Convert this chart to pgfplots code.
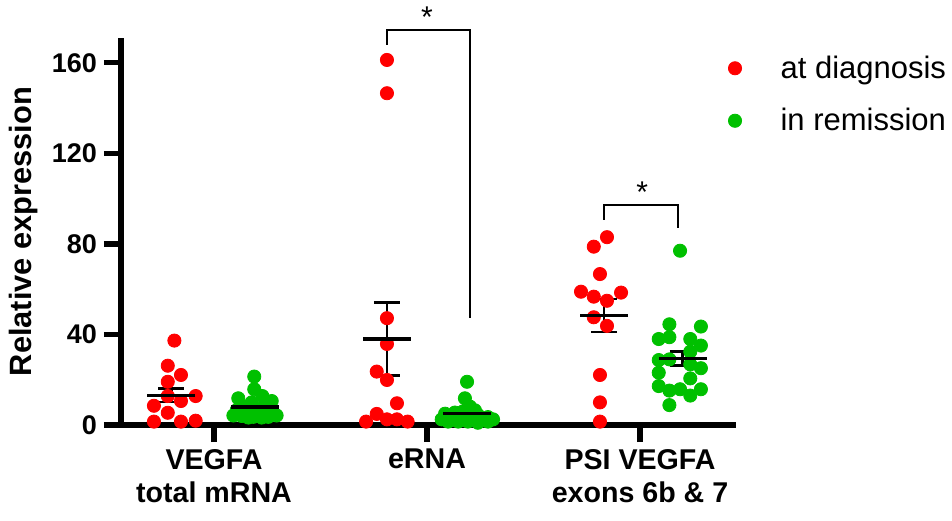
\documentclass[border=0pt]{standalone}
\usepackage{fontspec}
\setmainfont{Liberation Sans}
\usepackage{pgfplots}
\pgfplotsset{compat=1.18}
\definecolor{dxred}{RGB}{255,0,0}
\definecolor{rmgreen}{RGB}{0,192,0}

\begin{document}
\begin{tikzpicture}
\useasboundingbox (-60.5pt,-47.5pt) rectangle (415.5pt,212.5pt);
\begin{axis}[
  at={(0,0)}, anchor=south west,
  width=307.5pt, height=193.5pt, scale only axis,
  xmin=0.5634, xmax=3.4507, ymin=0, ymax=171,
  axis lines=left,
  axis line style={-, line width=2.6pt},
  tick align=outside, major tick length=8.5pt,
  tick style={line width=2.6pt, black},
  xtick={1,2,3},
  xticklabels={{VEGFA\\total mRNA},{eRNA},{PSI VEGFA\\exons 6b \& 7}},
  xticklabel style={align=center, font=\bfseries\fontsize{14.3}{16.5}\selectfont},
  ytick={0,40,80,120,160},
  yticklabel style={font=\bfseries\fontsize{13.5}{16}\selectfont},
  /pgf/number format/assume math mode=true,
  ylabel={Relative expression},
  ylabel style={font=\bfseries\fontsize{15.4}{18}\selectfont,
    at={(axis description cs:-0.158,0.5)}, anchor=center},
  clip=false,
  legend image code/.code={\draw[#1] plot coordinates {(0pt,0pt)};},
  legend style={at={(axis description cs:0.987,0.966)}, anchor=north west,
    draw=none, fill=none, inner sep=0pt, row sep=9.5pt, column sep=17.5pt,
    nodes={inner sep=2pt},
    font=\fontsize{15.5}{18}\selectfont},
  legend cell align=left,
]

% at diagnosis
\addplot[only marks, mark=*, mark size=3.3pt, color=dxred] coordinates {
(0.814,37.3) (0.783,26.2) (0.845,22.1) (0.783,19.1) (0.783,12.8) (0.914,12.8)
(0.845,10.6) (0.718,8.5) (0.783,5.4) (0.718,1.5) (0.845,1.5) (0.914,1.9)
(1.812,161.3) (1.812,146.6) (1.812,47.2) (1.812,35.8) (1.764,23.6) (1.812,19.9)
(1.859,9.6) (1.764,4.9) (1.714,1.5) (1.812,2.5) (1.859,2.5) (1.909,1.5)
(2.845,83.0) (2.783,78.8) (2.812,66.7) (2.723,58.9) (2.783,56.7) (2.845,54.9)
(2.911,58.5) (2.783,47.6) (2.845,43.8) (2.812,22.1) (2.812,10.0) (2.812,1.5)
};
\addlegendentry{at diagnosis}

% in remission
\addplot[only marks, mark=*, mark size=3.3pt, color=rmgreen] coordinates {
(1.189,21.4) (1.189,15.8) (1.227,12.8) (1.114,11.8) (1.271,10.6) (1.177,10.0)
(1.239,9.0) (1.146,7.9) (1.208,6.9) (1.107,6.6) (1.271,6.2) (1.161,5.4)
(1.224,4.8) (1.091,4.2) (1.294,4.2) (1.130,4.0) (1.185,3.6) (1.255,3.6)
(1.161,3.3) (1.224,3.3)
(2.188,19.1) (2.178,11.8) (2.202,8.1) (2.085,5.0) (2.131,5.5) (2.239,4.5)
(2.286,3.5) (2.108,3.0) (2.164,3.5) (2.211,2.5) (2.258,2.0) (2.310,2.5)
(2.069,2.5) (2.146,1.5) (2.192,1.5) (2.239,1.0) (2.099,1.5) (2.286,1.5)
(2.169,6.0) (2.225,6.5)
(3.188,77.0) (3.138,44.5) (3.286,43.5) (3.088,38.0) (3.138,38.8) (3.236,38.0)
(3.286,35.1) (3.236,32.4) (3.088,28.7) (3.138,29.0) (3.236,26.8) (3.286,25.1)
(3.088,23.1) (3.236,20.6) (3.088,17.2) (3.138,15.2) (3.188,15.8) (3.286,15.8)
(3.236,13.0) (3.138,8.8)
};
\addlegendentry{in remission}

% mean +- SEM
\addplot[black, only marks, mark=-, mark size=12pt, mark options={line width=1.8pt},
  forget plot,
  error bars/.cd, y dir=both, y explicit,
  error bar style={line width=1.3pt},
  error mark options={rotate=90, mark size=6.5pt, line width=1.3pt}]
coordinates {
(0.800,13.1) +- (0,3.0)
(1.192,8.0) +- (0,1.1)
(1.812,38.0) +- (0,16.2)
(2.188,5.0) +- (0,1.0)
(2.831,48.4) +- (0,7.3)
(3.200,29.4) +- (0,3.1)
};

% significance brackets
\addplot[black, line width=0.7pt, forget plot] coordinates {
(1.812,168) (1.812,174.6) (2.202,174.6) (2.202,47.3)};
\addplot[black, line width=0.7pt, forget plot] coordinates {
(2.831,90.6) (2.831,97.2) (3.178,97.2) (3.178,87.1)};
\node[font=\fontsize{15}{15}\selectfont] at (axis cs:2.0,180.3) {*};
\node[font=\fontsize{15}{15}\selectfont] at (axis cs:3.01,102.7) {*};
\end{axis}
\end{tikzpicture}
\end{document}
